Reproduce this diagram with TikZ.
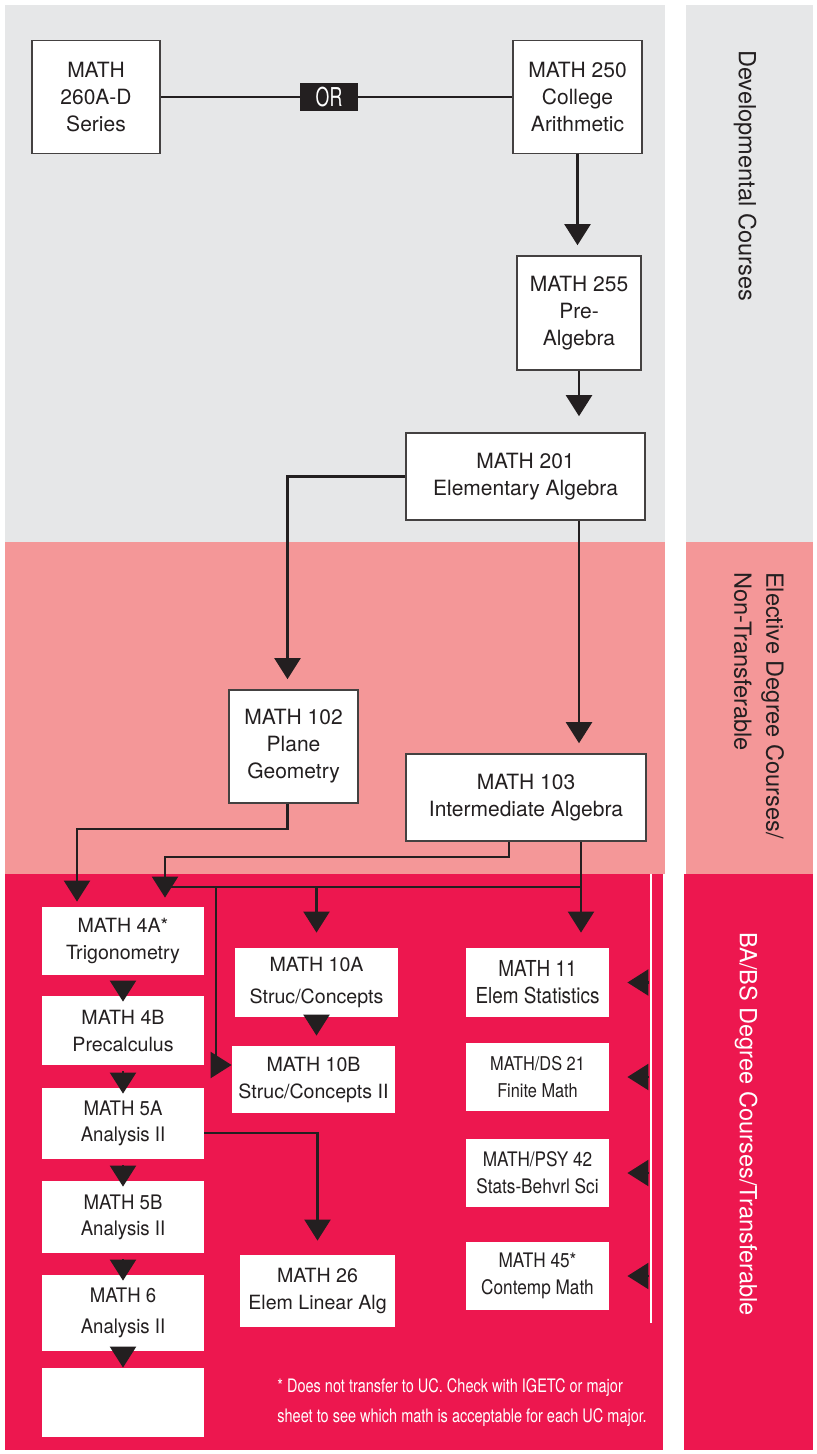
\documentclass[tikz,border=0pt]{standalone}
\usepackage{fontspec}
\setmainfont{TeX Gyre Heros}
\newfontfamily\narrowfont[FakeStretch=0.93]{TeX Gyre Heros}
\newfontfamily\condfont[FakeStretch=0.86]{TeX Gyre Heros}
\newfontfamily\xcondfont[FakeStretch=0.78]{TeX Gyre Heros}
\newfontfamily\orfont[FakeStretch=0.68]{TeX Gyre Heros}
\usetikzlibrary{arrows.meta,calc}
\definecolor{devgray}{HTML}{E6E7E8}
\definecolor{electpink}{HTML}{F49798}
\definecolor{transred}{HTML}{ED174F}
\definecolor{ink}{HTML}{231F20}

\begin{document}
\begin{tikzpicture}[x=0.5pt,y=-0.5pt]
	\tikzset{>={Triangle[width=13pt,length=10.5pt]},
		flow/.style={draw=ink,line width=1.1pt},
		chevron/.style={flow,->,shorten <=3pt,shorten >=-3pt},
		boxsize/.style 2 args={minimum width=#1*0.5pt,minimum height=#2*0.5pt},
		course/.style={draw=ink!85,line width=0.8pt,fill=white,align=center,inner sep=0pt,text=ink,font=\fontsize{10.5}{13.5}\selectfont},
		redcourse/.style={fill=white,align=center,inner sep=0pt,text=ink,font=\fontsize{9.8}{13.5}\selectfont},
		band/.style={text=ink,rotate=-90,anchor=west,align=left,font=\fontsize{11.8}{16}\selectfont}}
	\useasboundingbox (0,0) rectangle (817,1454);
	\fill[white] (0,0) rectangle (817,1454);
	\fill[devgray] (5,5) rectangle (665,542);
	\fill[devgray] (686,5) rectangle (813,542);
	\fill[electpink] (5,542) rectangle (665,874);
	\fill[electpink] (686,542) rectangle (813,874);
	\fill[transred] (5,874) rectangle (663,1450);
	\fill[transred] (684,874) rectangle (813,1450);
	\coordinate (railtop) at (651,874);
	\coordinate (railbot) at (651,1323);
	\draw[white,line width=1.3pt] (railtop) -- (railbot);

	\node[band] (devlbl) at (745,43) {Developmental Courses};
	\node[band] (eleclbl) at (759,565) {Elective Degree Courses/\\Non-Transferable};
	\node[band,text=white] (balbl) at (746,925) {BA/BS Degree Courses/Transferable};

	\node[course,boxsize={128}{113}] (m260) at (96,97) {MATH\\260A-D\\Series};
	\node[course,boxsize={129}{113}] (m250) at (577.5,97) {MATH 250\\College\\Arithmetic};
	\node[fill=ink,text=white,inner sep=0pt,boxsize={58}{28},font=\orfont\fontsize{13}{13}\selectfont] (or) at (329,97) {OR};
	\node[course,boxsize={124}{114}] (m255) at (579,313) {MATH 255\\Pre-\\Algebra};
	\node[course,boxsize={239}{87}] (m201) at (525.5,476.5) {MATH 201\\Elementary Algebra};
	\node[course,boxsize={129}{113}] (m102) at (293.5,746.5) {MATH 102\\Plane\\Geometry};
	\node[course,boxsize={240}{87}] (m103) at (526,797.5) {MATH 103\\Intermediate Algebra};

	\node[redcourse,boxsize={162}{68}] (m4A) at (123,941) {MATH 4A*\\Trigonometry};
	\node[redcourse,boxsize={162}{69}] (m4B) at (123,1030.5) {MATH 4B\\Precalculus};
	\node[redcourse,boxsize={162}{71},font=\narrowfont\fontsize{10}{13}\selectfont] (m5A) at (123,1123.5) {MATH 5A\\Analysis II};
	\node[redcourse,boxsize={162}{72},font=\narrowfont\fontsize{10}{13}\selectfont] (m5B) at (123,1217) {MATH 5B\\Analysis II};
	\node[redcourse,boxsize={162}{76},font=\narrowfont\fontsize{10}{13}\selectfont] (m6) at (123,1313) {MATH 6\\[2.5pt]Analysis II};
	\node[redcourse,boxsize={162}{69}] (blank) at (123,1402.5) {};
	\node[redcourse,boxsize={163}{69},font=\fontsize{9.8}{16}\selectfont] (m10A) at (316.5,982.5) {MATH 10A\\Struc/Concepts};
	\node[redcourse,boxsize={163}{67}] (m10B) at (313.5,1079.5) {MATH 10B\\Struc/Concepts II};
	\node[redcourse,boxsize={155}{72}] (m26) at (317.5,1291) {MATH 26\\Elem Linear Alg};
	\node[redcourse,boxsize={143}{69},font=\condfont\fontsize{11}{13.5}\selectfont] (m11) at (537.5,982.5) {MATH 11\\Elem Statistics};
	\node[redcourse,boxsize={143}{68},font=\condfont\fontsize{9.5}{13.5}\selectfont] (m21) at (537.5,1077) {MATH/DS 21\\Finite Math};
	\node[redcourse,boxsize={143}{68},font=\condfont\fontsize{10}{13.5}\selectfont] (m42) at (537.5,1173) {MATH/PSY 42\\Stats-Behvrl Sci};
	\node[redcourse,boxsize={143}{68},font=\condfont\fontsize{10}{13.5}\selectfont] (m45) at (537.5,1276) {MATH 45*\\Contemp Math};

	\node[text=white,align=left,anchor=west,inner sep=0pt,font=\xcondfont\fontsize{9.3}{15}\selectfont] (note) at (277,1403) {* Does not transfer to UC. Check with IGETC or major\\sheet to see which math is acceptable for each UC major.};

	\draw[flow] (m260) -- (or) -- (m250);
	\draw[flow,->,shorten >=5pt] (m250.south) -- (m250.south |- m255.north);
	\draw[flow,->,shorten >=8pt] (m255.south) -- (m255.south |- m201.north);
	\draw[flow,->,shorten >=5pt] (m201.west) -| ($(m102.north)+(-6,0)$);
	\draw[flow,->,shorten >=5pt] (m201.south -| m255) -- (m103.north -| m255);

	\coordinate (j102) at (77,829);
	\coordinate (j103) at (165,857);
	\coordinate (bus) at (581,887);
	\coordinate (b10B) at (216,887);
	\coordinate (rail) at (649,0);
	\draw[flow,->,shorten >=2.5pt] ($(m102.south)+(-6,0)$) |- (j102) -- (j102 |- m4A.north);
	\draw[flow,->,shorten >=4.5pt] ($(m103.south)+(-17,0)$) |- (j103) -- (j103 |- m4A.north);
	\draw[flow] (j103 |- bus) -- (bus);
	\draw[flow,->,shorten >=7.5pt] (m103.south -| bus) -- (m11.north -| bus);
	\draw[flow,->,shorten >=7.5pt] (m10A.north |- bus) -- (m10A.north);
	\draw[flow,->] (b10B) |- ($(m10B.west)+(0,-14.5)$);
	\draw[flow,->,shorten >=7pt] ($(m5A.east)+(0,9.5)$) -| (m26.north);

	\draw[chevron] (m4A) -- (m4B);
	\draw[chevron] (m4B) -- (m5A);
	\draw[chevron] (m5A) -- (m5B);
	\draw[chevron] (m5B) -- (m6);
	\draw[flow,->] (m6) -- (blank);
	\draw[flow,->,shorten >=5pt] (m10A.south) -- (m10A.south |- m10B.north);

	\foreach \c in {m11,m21,m42,m45}
		\draw[flow,->,shorten >=9pt] (\c.east -| rail) -- (\c.east);
\end{tikzpicture}
\end{document}
